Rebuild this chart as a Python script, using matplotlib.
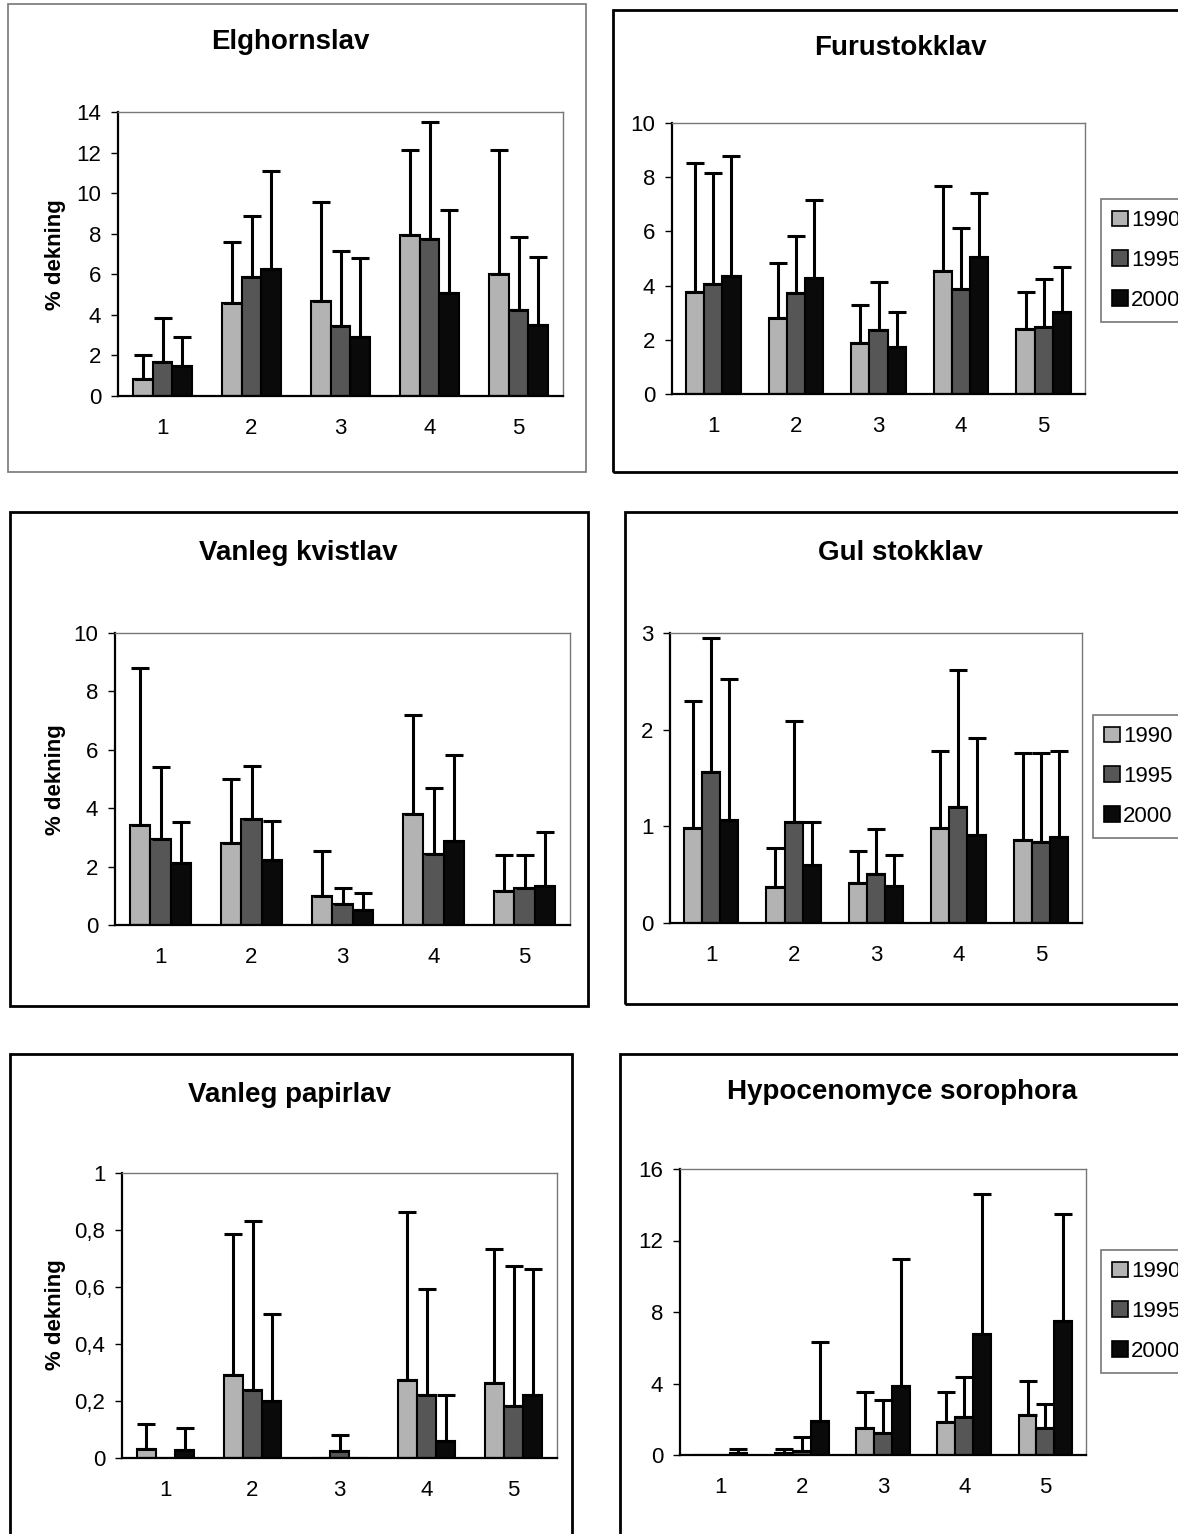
import numpy as np
import matplotlib
matplotlib.use("Agg")
import matplotlib.pyplot as plt
from matplotlib.patches import Rectangle, Patch

plt.rcParams['font.family'] = ['Liberation Sans', 'DejaVu Sans']

## Data (mean cover and top of error bar, per year)
groups = [1, 2, 3, 4, 5]
years = ["1990", "1995", "2000"]

elg_mean = [[0.82, 4.6, 4.68, 7.93, 6.01],
            [1.69, 5.85, 3.45, 7.73, 4.24],
            [1.49, 6.24, 2.92, 5.09, 3.48]]
elg_top = [[2.02, 7.57, 9.54, 12.12, 12.12],
           [3.83, 8.88, 7.16, 13.51, 7.82],
           [2.92, 11.08, 6.78, 9.16, 6.83]]

furu_mean = [[3.77, 2.81, 1.87, 4.53, 2.41],
             [4.05, 3.71, 2.36, 3.86, 2.48],
             [4.35, 4.29, 1.74, 5.04, 3.02]]
furu_top = [[8.53, 4.85, 3.30, 7.67, 3.77],
            [8.17, 5.82, 4.12, 6.14, 4.24],
            [8.78, 7.15, 3.02, 7.40, 4.67]]

kvist_mean = [[3.41, 2.8, 0.99, 3.81, 1.18],
              [2.94, 3.63, 0.71, 2.42, 1.26],
              [2.11, 2.21, 0.51, 2.86, 1.35]]
kvist_top = [[8.8, 4.99, 2.55, 7.2, 2.4],
             [5.41, 5.43, 1.26, 4.69, 2.4],
             [3.54, 3.57, 1.11, 5.83, 3.2]]

gul_mean = [[0.98, 0.37, 0.41, 0.98, 0.86],
            [1.56, 1.04, 0.51, 1.2, 0.84],
            [1.07, 0.6, 0.38, 0.91, 0.89]]
gul_top = [[2.3, 0.78, 0.74, 1.78, 1.76],
           [2.95, 2.09, 0.97, 2.62, 1.76],
           [2.52, 1.04, 0.70, 1.91, 1.78]]

papir_mean = [[0.033, 0.29, 0.0, 0.274, 0.263],
              [0.0, 0.24, 0.023, 0.222, 0.181],
              [0.029, 0.2, 0.0, 0.061, 0.222]]
papir_top = [[0.12, 0.785, 0.0, 0.863, 0.733],
             [0.0, 0.83, 0.082, 0.592, 0.674],
             [0.107, 0.505, 0.0, 0.222, 0.662]]

hypo_mean = [[0.0, 0.1, 1.49, 1.87, 2.24],
             [0.0, 0.2, 1.25, 2.15, 1.49],
             [0.1, 1.9, 3.86, 6.77, 7.52]]
hypo_top = [[0.0, 0.35, 3.5, 3.5, 4.16],
            [0.0, 1.0, 3.08, 4.35, 2.85],
            [0.35, 6.3, 10.97, 14.6, 13.5]]

colors = ["#b3b3b3", "#565656", "#0a0a0a"]

W, H = 1178, 1534
fig = plt.figure(figsize=(W / 100, H / 100), dpi=100)


def rect(l, t, r, b):
    # pixel box -> figure fraction
    return [l / W, 1 - b / H, (r - l) / W, (b - t) / H]


def frame(l, t, r, b, col="k", lw=2.0):
    fig.patches.append(Rectangle((l / W, 1 - b / H), (r - l) / W, (b - t) / H,
                                 transform=fig.transFigure, fill=False,
                                 edgecolor=col, linewidth=lw))


def panel(box, means, tops, ymax, yticks, ylabels, title, title_xy, ylab=None):
    ax = fig.add_axes(rect(*box))
    w = 0.22
    x = np.array(groups, dtype=float)
    for k in range(3):
        xs = x + (k - 1) * w
        m = np.array(means[k])
        t = np.array(tops[k])
        ax.bar(xs, m, width=w, color=colors[k], edgecolor="k", linewidth=1.5, zorder=2)
        ok = t > m
        ax.errorbar(xs[ok], m[ok], yerr=[np.zeros(ok.sum()), (t - m)[ok]],
                    fmt="none", ecolor="k", elinewidth=2.2, capsize=6.5,
                    capthick=2.2, zorder=3)
    ax.set_xlim(0.5, 5.5)
    ax.set_ylim(0, ymax)
    ax.set_yticks(yticks)
    ax.set_yticklabels(ylabels)
    ax.set_xticks(groups)
    ax.tick_params(axis="x", length=0, pad=16, labelsize=16)
    ax.tick_params(axis="y", length=5, width=1, pad=7, labelsize=16, direction="out")
    for s in ["left", "bottom"]:
        ax.spines[s].set_linewidth(1.6)
        ax.spines[s].set_color("k")
    for s in ["top", "right"]:
        ax.spines[s].set_linewidth(1.0)
        ax.spines[s].set_color("#777777")
    fig.text(title_xy[0] / W, 1 - title_xy[1] / H, title, ha="center", va="center",
             fontsize=20, fontweight="bold")
    if ylab:
        fig.text(ylab[0] / W, 1 - ylab[1] / H, "% dekning", rotation=90,
                 ha="center", va="center", fontsize=16, fontweight="bold")
    return ax


def legend(x, y):
    handles = [Patch(facecolor=c, edgecolor="k", linewidth=1.2) for c in colors]
    lg = fig.legend(handles, years, loc="upper left", bbox_to_anchor=(x / W, 1 - y / H),
                    bbox_transform=fig.transFigure, fontsize=16, frameon=True,
                    fancybox=False, handlelength=0.7, handleheight=0.7,
                    handletextpad=0.15, labelspacing=0.85, borderpad=0.5,
                    borderaxespad=0)
    lg.get_frame().set_edgecolor("#555555")
    lg.get_frame().set_linewidth(1.2)


# panel frames
frame(8, 4, 586, 472, col="#777777", lw=1.2)
frame(613, 10, 1190, 472)
frame(10, 512, 588, 1006)
frame(625, 512, 1190, 1004)
frame(10, 1054, 572, 1545)
frame(620, 1054, 1190, 1545)

panel((118, 112, 563, 396), elg_mean, elg_top, 14, range(0, 15, 2),
      [str(v) for v in range(0, 15, 2)], "Elghornslav", (290, 42), ylab=(55, 255))
panel((672, 123, 1085, 394), furu_mean, furu_top, 10, range(0, 11, 2),
      [str(v) for v in range(0, 11, 2)], "Furustokklav", (900, 48))
legend(1101, 199)

panel((115, 633, 570, 925), kvist_mean, kvist_top, 10, range(0, 11, 2),
      [str(v) for v in range(0, 11, 2)], "Vanleg kvistlav", (298, 553), ylab=(55, 780))
panel((670, 633, 1082, 923), gul_mean, gul_top, 3, range(0, 4),
      [str(v) for v in range(0, 4)], "Gul stokklav", (900, 553))
legend(1093, 715)

panel((122, 1173, 557, 1458), papir_mean, papir_top, 1, [0, 0.2, 0.4, 0.6, 0.8, 1],
      ["0", "0,2", "0,4", "0,6", "0,8", "1"], "Vanleg papirlav", (290, 1095), ylab=(55, 1315))
panel((680, 1169, 1086, 1455), hypo_mean, hypo_top, 16, range(0, 17, 4),
      [str(v) for v in range(0, 17, 4)], "Hypocenomyce sorophora", (902, 1092))
legend(1101, 1250)

fig.savefig("out.png", dpi=100)
